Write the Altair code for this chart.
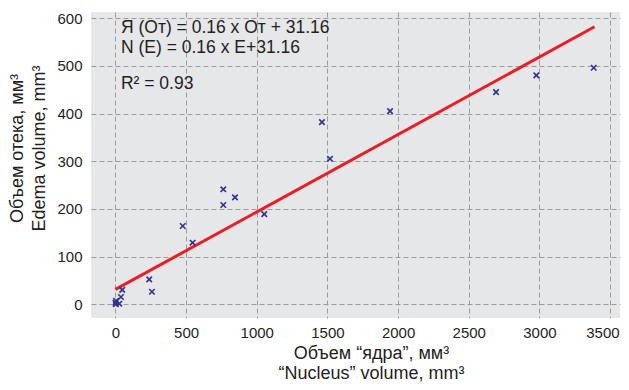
import altair as alt
import pandas as pd

# Scatter data
nucleus = [0, 3, 4, 27, 39, 48, 239, 258, 476, 546, 763, 763, 846, 1053, 1461, 1518, 1943, 2693, 2978, 3384]
edema = [3, 0, 7, 1, 15, 30, 52, 26, 164, 129, 241, 208, 224, 189, 382, 305, 405, 445, 480, 496]

# Regression line endpoints (as drawn)
fit_x = [0, 3390]
fit_y = [31, 582]

# Annotation texts
ann_text = ["Я (От) = 0.16 x От + 31.16", "N (E) = 0.16 x E+31.16", "R² = 0.93"]
ann_x = [39, 39, 39]
ann_y = [579, 538, 462]

x_ticks = [0, 500, 1000, 1500, 2000, 2500, 3000, 3500]
y_ticks = [0, 100, 200, 300, 400, 500, 600]

pts = pd.DataFrame({"x": nucleus, "y": edema})
fit = pd.DataFrame({"x": fit_x, "y": fit_y})
ann = pd.DataFrame({"x": ann_x, "y": ann_y, "t": ann_text})

FONT = "Liberation Sans"
xscale = alt.Scale(domain=[-173, 3570], nice=False, zero=False)
yscale = alt.Scale(domain=[-29, 613], nice=False, zero=False)

xaxis = alt.Axis(
    values=x_ticks, format="d", title=["Объем “ядра”, мм³", "“Nucleus” volume, mm³"],
    grid=True, ticks=False, domain=False, labelPadding=7, titlePadding=4,
    labelFlush=15, labelFlushOffset=9,
    labelFontSize=15, titleFontSize=18, titleFontWeight="normal",
    labelColor="#231f20", titleColor="#231f20", labelFont=FONT, titleFont=FONT,
    gridColor="#9a9a9a", gridDash=[5, 3], gridWidth=1, titleLineHeight=20,
    titleX=280,
)
yaxis = alt.Axis(
    values=y_ticks, format="d", title=["Объем отека, мм³", "Edema volume, mm³"],
    grid=True, ticks=False, domain=False, labelPadding=9, titlePadding=8,
    labelFontSize=15, titleFontSize=18, titleFontWeight="normal",
    labelColor="#231f20", titleColor="#231f20", labelFont=FONT, titleFont=FONT,
    gridColor="#9a9a9a", gridDash=[5, 3], gridWidth=1, titleLineHeight=22,
    titleY=136,
)

points = alt.Chart(pts).mark_point(
    shape="M-1,-1L1,1M-1,1L1,-1", size=30, filled=False, strokeWidth=1.6,
    color="#2e3192", opacity=1
).encode(
    x=alt.X("x:Q", scale=xscale, axis=xaxis),
    y=alt.Y("y:Q", scale=yscale, axis=yaxis),
)

line = alt.Chart(fit).mark_line(color="#ed1c24", strokeWidth=3).encode(
    x=alt.X("x:Q", scale=xscale),
    y=alt.Y("y:Q", scale=yscale),
)

text = alt.Chart(ann).mark_text(
    align="left", baseline="middle", fontSize=17.5, font=FONT, color="#231f20"
).encode(
    x=alt.X("x:Q", scale=xscale),
    y=alt.Y("y:Q", scale=yscale),
    text="t:N",
)

chart = alt.layer(line, points, text).properties(
    width=529, height=306,
    autosize=alt.AutoSizeParams(type="none"),
    padding={"left": 83, "top": 4, "right": 1, "bottom": 64},
    background="white",
).configure_view(fill="#e6e7e9", stroke=None)

chart.save("out.html", embed_options={"renderer": "svg", "actions": False})
